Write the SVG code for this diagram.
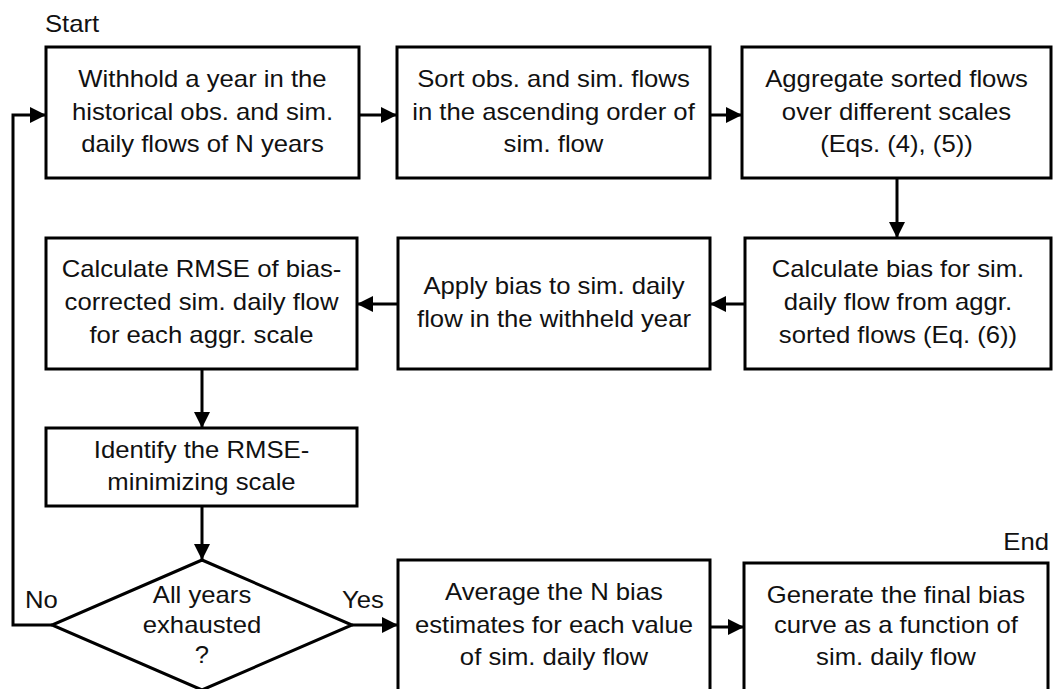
<svg xmlns="http://www.w3.org/2000/svg" width="1054" height="689" viewBox="0 0 1054 689">
<defs>
<style>
.box{fill:#fff;stroke:#000;stroke-width:3}
.ln{fill:none;stroke:#000;stroke-width:3}
.t{font-family:"Liberation Sans",Arial,sans-serif;font-size:24px;fill:#111;text-anchor:middle}
.l{text-anchor:start}
.e{text-anchor:end}
</style>
<marker id="ah" markerUnits="userSpaceOnUse" markerWidth="16" markerHeight="16" viewBox="0 0 16 16" refX="15" refY="8" orient="auto">
<path d="M0,0 L16,8 L0,16 Z" fill="#000"/>
</marker>
</defs>
<rect width="1054" height="689" fill="#fff"/>

<g id="connectors">
<path class="ln" d="M359,115 H396" marker-end="url(#ah)"/>
<path class="ln" d="M710,115 H741" marker-end="url(#ah)"/>
<path class="ln" d="M897,178 V237" marker-end="url(#ah)"/>
<path class="ln" d="M744,304 H711" marker-end="url(#ah)"/>
<path class="ln" d="M398,304 H358" marker-end="url(#ah)"/>
<path class="ln" d="M202,369 V427" marker-end="url(#ah)"/>
<path class="ln" d="M202,506 V559" marker-end="url(#ah)"/>
<path class="ln" d="M352,625 H397" marker-end="url(#ah)"/>
<path class="ln" d="M710,627 H743" marker-end="url(#ah)"/>
<path class="ln" d="M52,625 H13 V115 H45" marker-end="url(#ah)"/>
</g>

<g id="label-start"><text class="t l" transform="scale(1.07 1)" x="42.06" y="32">Start</text></g>
<g id="label-end"><text class="t e" transform="scale(1.07 1)" x="980.37" y="550">End</text></g>

<g id="n1">
<rect class="box" x="46" y="47" width="313" height="131"/>
<text class="t" transform="scale(1.07 1)" x="189.25" y="87">Withhold a year in the</text>
<text class="t" transform="scale(1.07 1)" x="189.25" y="120">historical obs. and sim.</text>
<text class="t" transform="scale(1.07 1)" x="189.25" y="152">daily flows of N years</text>
</g>

<g id="n2">
<rect class="box" x="397" y="47" width="313" height="131"/>
<text class="t" transform="scale(1.07 1)" x="517.29" y="87">Sort obs. and sim. flows</text>
<text class="t" transform="scale(1.07 1)" x="517.29" y="120">in the ascending order of</text>
<text class="t" transform="scale(1.07 1)" x="517.29" y="152">sim. flow</text>
</g>

<g id="n3">
<rect class="box" x="742" y="47" width="309" height="131"/>
<text class="t" transform="scale(1.07 1)" x="837.85" y="87">Aggregate sorted flows</text>
<text class="t" transform="scale(1.07 1)" x="837.85" y="120">over different scales</text>
<text class="t" transform="scale(1.07 1)" x="837.85" y="152">(Eqs. (4), (5))</text>
</g>

<g id="n4">
<rect class="box" x="745" y="238" width="306" height="131"/>
<text class="t" transform="scale(1.07 1)" x="839.25" y="277">Calculate bias for sim.</text>
<text class="t" transform="scale(1.07 1)" x="839.25" y="310">daily flow from aggr.</text>
<text class="t" transform="scale(1.07 1)" x="839.25" y="343">sorted flows (Eq. (6))</text>
</g>

<g id="n5">
<rect class="box" x="398" y="238" width="312" height="131"/>
<text class="t" transform="scale(1.07 1)" x="517.76" y="294">Apply bias to sim. daily</text>
<text class="t" transform="scale(1.07 1)" x="517.76" y="327">flow in the withheld year</text>
</g>

<g id="n6">
<rect class="box" x="46" y="238" width="311" height="131"/>
<text class="t" transform="scale(1.07 1)" x="188.32" y="277">Calculate RMSE of bias-</text>
<text class="t" transform="scale(1.07 1)" x="188.32" y="310">corrected sim. daily flow</text>
<text class="t" transform="scale(1.07 1)" x="188.32" y="343">for each aggr. scale</text>
</g>

<g id="n7">
<rect class="box" x="46" y="428" width="311" height="78"/>
<text class="t" transform="scale(1.07 1)" x="188.32" y="458">Identify the RMSE-</text>
<text class="t" transform="scale(1.07 1)" x="188.32" y="490">minimizing scale</text>
</g>

<g id="n8">
<path class="box" d="M202,560 L352,625 L202,690 L52,625 Z"/>
<text class="t" transform="scale(1.07 1)" x="188.79" y="603">All years</text>
<text class="t" transform="scale(1.07 1)" x="188.79" y="633">exhausted</text>
<text class="t" transform="scale(1.07 1)" x="188.79" y="663">?</text>
</g>

<g id="label-no"><text class="t l" transform="scale(1.07 1)" x="23.36" y="608">No</text></g>
<g id="label-yes"><text class="t l" transform="scale(1.07 1)" x="319.63" y="608">Yes</text></g>

<g id="n9">
<rect class="box" x="398" y="560" width="312" height="150"/>
<text class="t" transform="scale(1.07 1)" x="517.76" y="600">Average the N bias</text>
<text class="t" transform="scale(1.07 1)" x="517.76" y="633">estimates for each value</text>
<text class="t" transform="scale(1.07 1)" x="517.76" y="665">of sim. daily flow</text>
</g>

<g id="n10">
<rect class="box" x="744" y="563" width="304" height="150"/>
<text class="t" transform="scale(1.07 1)" x="837.38" y="603">Generate the final bias</text>
<text class="t" transform="scale(1.07 1)" x="837.38" y="633">curve as a function of</text>
<text class="t" transform="scale(1.07 1)" x="837.38" y="665">sim. daily flow</text>
</g>
</svg>
